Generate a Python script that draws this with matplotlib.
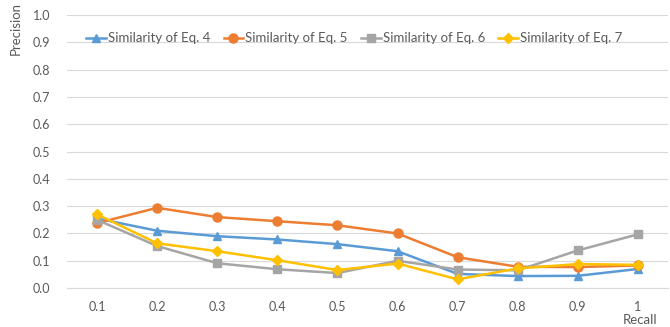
import matplotlib
matplotlib.use("Agg")
import matplotlib.pyplot as plt

recall = ["0.1", "0.2", "0.3", "0.4", "0.5", "0.6", "0.7", "0.8", "0.9", "1"]
eq4 = [0.255, 0.21, 0.19, 0.178, 0.161, 0.135, 0.052, 0.044, 0.045, 0.07]
eq5 = [0.238, 0.294, 0.26, 0.245, 0.23, 0.2, 0.113, 0.078, 0.077, 0.083]
eq6 = [0.25, 0.154, 0.091, 0.069, 0.055, 0.1, 0.068, 0.065, 0.138, 0.197]
eq7 = [0.27, 0.164, 0.135, 0.102, 0.066, 0.09, 0.032, 0.072, 0.088, 0.085]
yticks = [0.0, 0.1, 0.2, 0.3, 0.4, 0.5, 0.6, 0.7, 0.8, 0.9, 1.0]

plt.rcParams['font.family'] = ['Lato', 'DejaVu Sans']

fig = plt.figure(figsize=(6.7, 3.27), dpi=100)
ax = fig.add_axes([0.1, 0.119, 0.897, 0.835])

x = list(range(len(recall)))
series = [
    ("Similarity of Eq. 4", eq4, "#5B9BD5", "^", 6),
    ("Similarity of Eq. 5", eq5, "#ED7D31", "o", 6.5),
    ("Similarity of Eq. 6", eq6, "#A5A5A5", "s", 6),
    ("Similarity of Eq. 7", eq7, "#FFC000", "D", 5),
]
for label, vals, col, mk, ms in series:
    ax.plot(x, vals, color=col, marker=mk, markersize=ms, linewidth=1.8, label=label)

ax.set_xlim(-0.5, len(recall) - 0.5)
ax.set_ylim(0, 1.0)
ax.set_xticks(x)
ax.set_xticklabels(recall)
ax.set_yticks(yticks)
ax.set_yticklabels([f"{v:.1f}" for v in yticks])
ax.grid(axis='y', color='#D9D9D9', linewidth=0.8)
ax.set_axisbelow(True)
for s in ['top', 'right', 'left']:
    ax.spines[s].set_visible(False)
ax.spines['bottom'].set_color('#D9D9D9')
ax.tick_params(axis='both', length=0, labelsize=9, colors='#595959')
ax.tick_params(axis='x', pad=9)
ax.tick_params(axis='y', pad=12)

ax.set_ylabel("Precision", fontsize=9.5, color='#595959', labelpad=6)
ax.yaxis.set_label_coords(-0.075, 0.95)
fig.text(0.955, 0.008, "Recall", fontsize=9.5, color='#595959', ha='center')

ax.legend(loc='upper center', bbox_to_anchor=(0.478, 0.98), ncol=4, frameon=False,
          fontsize=9.5, handlelength=1.5, handletextpad=0.15, columnspacing=1.0,
          labelcolor='#595959')

fig.savefig("out.png", dpi=100)
